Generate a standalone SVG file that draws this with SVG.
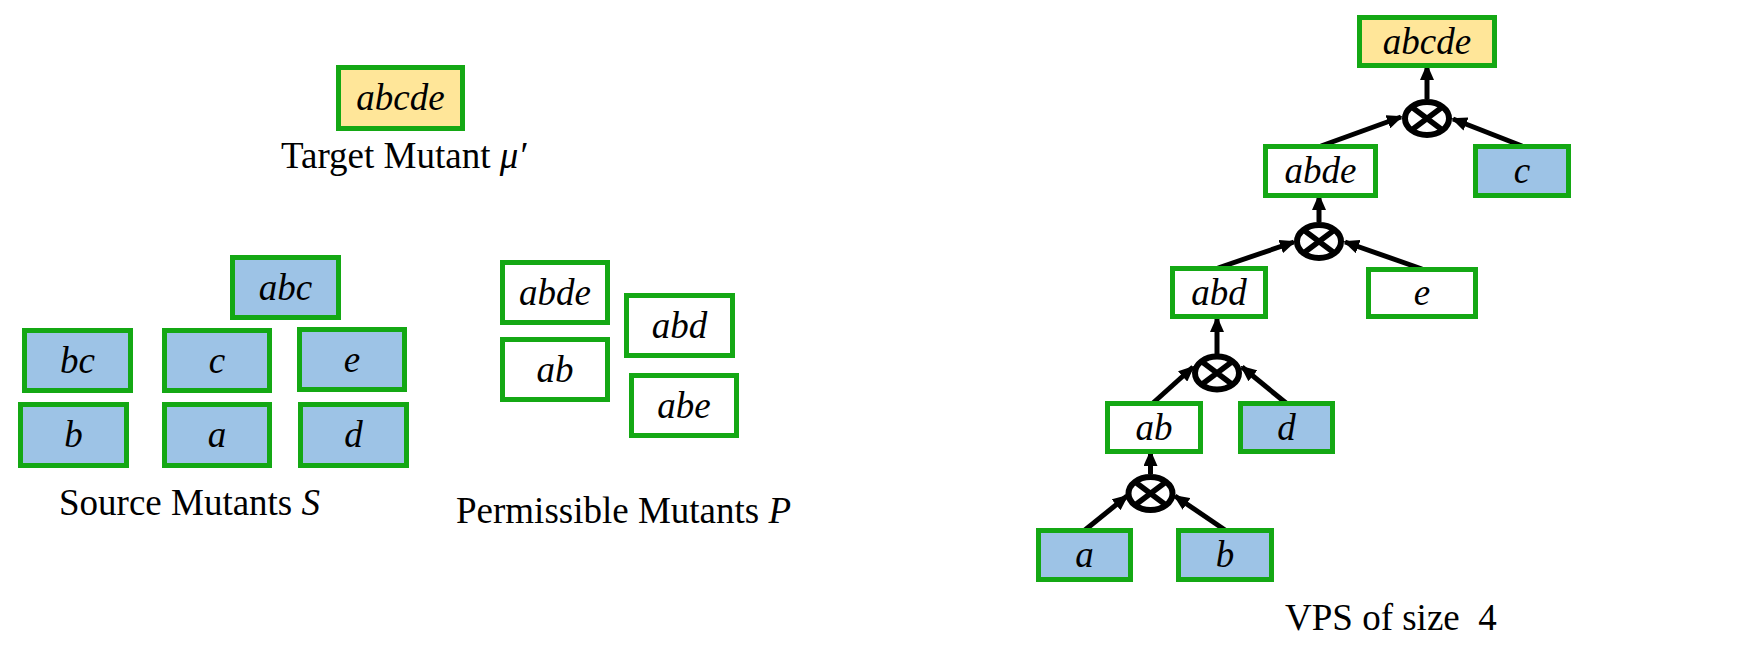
<svg xmlns="http://www.w3.org/2000/svg" width="1744" height="663" viewBox="0 0 1744 663">
<style>
.box{stroke:#14A814;stroke-width:5}
.src{fill:#9DC3E6}
.tgt{fill:#FFE699}
.per{fill:#FFFFFF}
.t{font-family:"Liberation Serif","Times New Roman",serif;font-size:37px;font-style:italic;text-anchor:middle;fill:#000}
.lbl{font-family:"Liberation Serif","Times New Roman",serif;font-size:37px;fill:#000}
.it{font-style:italic}
.op{fill:#FFFFFF;stroke:#000;stroke-width:6}
.x{stroke:#000;stroke-width:5.5}
.edge{stroke:#000;stroke-width:5;fill:none;marker-end:url(#ah)}
</style>
<defs>
<marker id="ah" markerUnits="userSpaceOnUse" markerWidth="16" markerHeight="14" refX="14" refY="7" orient="auto">
<path d="M0,0 L16,7 L0,14 z" fill="#000"/>
</marker>
</defs>
<rect width="1744" height="663" fill="#FFFFFF"/>

<!-- Left: target -->
<g id="target">
<rect class="box tgt" x="338.5" y="67.5" width="124" height="61"/>
<text class="t" x="400.5" y="110">abcde</text>
</g>
<text id="label-target" class="lbl" x="281" y="168">Target Mutant <tspan class="it">μ′</tspan></text>

<!-- Source mutants -->
<g id="s-abc"><rect class="box src" x="232.5" y="257.5" width="106" height="60"/><text class="t" x="285.5" y="300">abc</text></g>
<g id="s-bc"><rect class="box src" x="24.5" y="330.5" width="106" height="60"/><text class="t" x="77.5" y="373">bc</text></g>
<g id="s-c"><rect class="box src" x="164.5" y="330.5" width="105" height="60"/><text class="t" x="217" y="373">c</text></g>
<g id="s-e"><rect class="box src" x="299.5" y="329.5" width="105" height="60"/><text class="t" x="352" y="372">e</text></g>
<g id="s-b"><rect class="box src" x="20.5" y="404.5" width="106" height="61"/><text class="t" x="73.5" y="447">b</text></g>
<g id="s-a"><rect class="box src" x="164.5" y="404.5" width="105" height="61"/><text class="t" x="217" y="447">a</text></g>
<g id="s-d"><rect class="box src" x="300.5" y="404.5" width="106" height="61"/><text class="t" x="353.5" y="447">d</text></g>
<text id="label-source" class="lbl" x="59" y="515">Source Mutants <tspan class="it">S</tspan></text>

<!-- Permissible mutants -->
<g id="p-abde"><rect class="box per" x="502.5" y="262.5" width="105" height="60"/><text class="t" x="555" y="305">abde</text></g>
<g id="p-abd"><rect class="box per" x="626.5" y="295.5" width="106" height="60"/><text class="t" x="679.5" y="338">abd</text></g>
<g id="p-ab"><rect class="box per" x="502.5" y="339.5" width="105" height="60"/><text class="t" x="555" y="382">ab</text></g>
<g id="p-abe"><rect class="box per" x="631.5" y="375.5" width="105" height="60"/><text class="t" x="684" y="418">abe</text></g>
<text id="label-perm" class="lbl" x="456" y="523">Permissible Mutants <tspan class="it">P</tspan></text>

<!-- Tree connectors -->
<g id="connectors">
<line class="edge" x1="1427" y1="99" x2="1427" y2="66"/>
<line class="edge" x1="1321" y1="146" x2="1401" y2="117"/>
<line class="edge" x1="1522" y1="146" x2="1453" y2="119"/>
<line class="edge" x1="1319" y1="222" x2="1319" y2="196"/>
<line class="edge" x1="1218" y1="268" x2="1294" y2="242"/>
<line class="edge" x1="1422" y1="269" x2="1345" y2="242"/>
<line class="edge" x1="1217" y1="354" x2="1217" y2="318"/>
<line class="edge" x1="1153" y1="403" x2="1193" y2="367"/>
<line class="edge" x1="1286" y1="403" x2="1242" y2="367"/>
<line class="edge" x1="1150.5" y1="474" x2="1150.5" y2="452"/>
<line class="edge" x1="1085" y1="530" x2="1127" y2="496"/>
<line class="edge" x1="1225" y1="530" x2="1175" y2="496"/>
</g>

<!-- Operators -->
<g id="op1"><ellipse class="op" cx="1427" cy="118.5" rx="22" ry="16.5"/><path class="x" d="M1411,106.5 L1443,130.5 M1443,106.5 L1411,130.5"/></g>
<g id="op2"><ellipse class="op" cx="1319" cy="241.5" rx="22" ry="16.5"/><path class="x" d="M1303,229.5 L1335,253.5 M1335,229.5 L1303,253.5"/></g>
<g id="op3"><ellipse class="op" cx="1217" cy="373" rx="22" ry="16.5"/><path class="x" d="M1201,361 L1233,385 M1233,361 L1201,385"/></g>
<g id="op4"><ellipse class="op" cx="1150.5" cy="493.5" rx="22" ry="16.5"/><path class="x" d="M1134.5,481.5 L1166.5,505.5 M1166.5,481.5 L1134.5,505.5"/></g>

<!-- Tree nodes -->
<g id="v-abcde"><rect class="box tgt" x="1359.5" y="17.5" width="135" height="48"/><text class="t" x="1427" y="53.5">abcde</text></g>
<g id="v-abde"><rect class="box per" x="1265.5" y="146.5" width="110" height="49"/><text class="t" x="1320.5" y="183">abde</text></g>
<g id="v-c"><rect class="box src" x="1475.5" y="146.5" width="93" height="49"/><text class="t" x="1522" y="183">c</text></g>
<g id="v-abd"><rect class="box per" x="1172.5" y="268.5" width="93" height="48"/><text class="t" x="1219" y="304.5">abd</text></g>
<g id="v-e"><rect class="box per" x="1368.5" y="269.5" width="107" height="47"/><text class="t" x="1422" y="305">e</text></g>
<g id="v-ab"><rect class="box per" x="1107.5" y="403.5" width="93" height="48"/><text class="t" x="1154" y="439.5">ab</text></g>
<g id="v-d"><rect class="box src" x="1240.5" y="403.5" width="92" height="48"/><text class="t" x="1286.5" y="439.5">d</text></g>
<g id="v-a"><rect class="box src" x="1038.5" y="530.5" width="92" height="49"/><text class="t" x="1084.5" y="567">a</text></g>
<g id="v-b"><rect class="box src" x="1178.5" y="530.5" width="93" height="49"/><text class="t" x="1225" y="567">b</text></g>
<text id="label-vps" class="lbl" x="1285" y="630" xml:space="preserve">VPS of size  4</text>
</svg>
